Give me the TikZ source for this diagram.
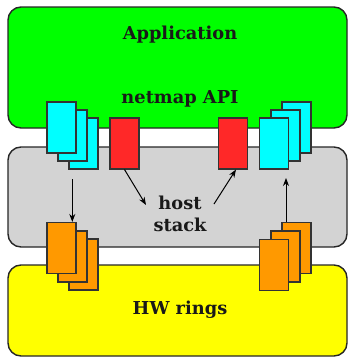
\documentclass[tikz,border=0pt]{standalone}
\usepackage{fontspec}
\setmainfont{DejaVu Serif}
\usetikzlibrary{arrows.meta, positioning, calc}
\usepackage{xcolor}
\definecolor{appgreen}{RGB}{0,255,0}
\definecolor{stackgray}{RGB}{211,211,211}
\definecolor{hwyellow}{RGB}{255,255,0}
\definecolor{bufcyan}{RGB}{0,255,255}
\definecolor{bufred}{RGB}{255,40,40}
\definecolor{buforange}{RGB}{255,153,0}
\tikzset{
    layer/.style = {rectangle, rounded corners=13pt, minimum width=339pt, draw=black!85, line width=1.4pt, inner sep=0pt},
    buf/.style = {rectangle, minimum width=29pt, minimum height=51pt, draw=black!80, line width=1.1pt, inner sep=0pt},
    label/.style = {font=\fontsize{17.8}{22}\selectfont\bfseries, align=center, text=black!90},
    arrow/.style = {line width=1pt, -{Stealth[length=8pt, width=6pt]}}
}

\begin{document}
\begin{tikzpicture}[x=1pt, y=-1pt]
\useasboundingbox (0,0) rectangle (348,357);

% ---- layers ----
\node[layer, fill=appgreen, minimum height=121pt] (app) at (177.5,67.5) {};
\node[layer, fill=stackgray, minimum height=100pt] (host) at (177.5,197) {};
\node[layer, fill=hwyellow, minimum height=91pt] (hw) at (177.5,310.5) {};

% ---- labels ----
\node[label] (applbl) at (180,35) {Application};
\node[label] (apilbl) at (180,99) {netmap API};
\node[label] (hostlbl) at (180,214) {host\\stack};
\node[label] (hwlbl) at (180,310) {HW rings};

% ---- netmap rings (cyan) ----
\node[buf, fill=bufcyan] (cyanLc) at (83.5,143.5) {};
\node[buf, fill=bufcyan] (cyanLb) at (72.5,135.5) {};
\node[buf, fill=bufcyan] (cyanLa) at (61.5,127.5) {};
\node[buf, fill=bufcyan] (cyanRc) at (296.5,127.5) {};
\node[buf, fill=bufcyan] (cyanRb) at (285.5,135.5) {};
\node[buf, fill=bufcyan] (cyanRa) at (274,143.5) {};

% ---- host rings (red) ----
\node[buf, fill=bufred] (redL) at (124.5,143.5) {};
\node[buf, fill=bufred] (redR) at (233,143.5) {};

% ---- NIC rings (orange) ----
\node[buf, fill=buforange] (oraLc) at (83.5,264.5) {};
\node[buf, fill=buforange] (oraLb) at (72.5,256.5) {};
\node[buf, fill=buforange] (oraLa) at (61.5,248) {};
\node[buf, fill=buforange] (oraRc) at (296.5,248) {};
\node[buf, fill=buforange] (oraRb) at (285.5,256.5) {};
\node[buf, fill=buforange] (oraRa) at (274,265) {};

% ---- arrows ----
\coordinate (downtop) at (72.3,179);
\coordinate (uptop) at (286,178);
\coordinate (intohost) at (146,205);
\coordinate (outofhost) at (214,204);
\draw[arrow] (downtop) -- (downtop |- oraLa.north);
\draw[arrow] (redL.south) -- (intohost);
\draw[arrow] (outofhost) -- ([xshift=3pt]redR.south);
\draw[arrow] (uptop |- oraRc.north) -- (uptop);

\end{tikzpicture}
\end{document}
